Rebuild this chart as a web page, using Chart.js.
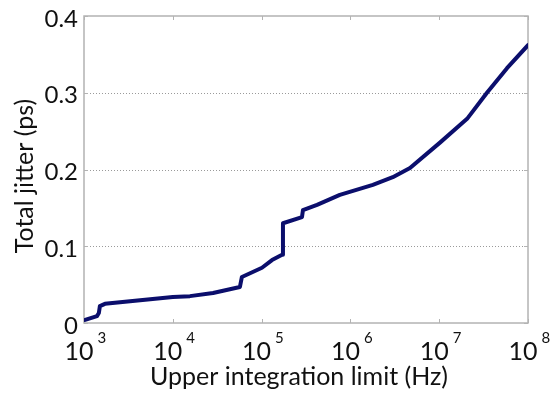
<!DOCTYPE html>
<html>
<head>
<meta charset="utf-8">
<script src="https://cdn.jsdelivr.net/npm/chart.js@4.4.0/dist/chart.umd.min.js"></script>
<style>
  html, body { margin: 0; padding: 0; background: #fff; }
  canvas { display: block; }
</style>
</head>
<body>
<canvas id="jitterChart" width="551" height="393"></canvas>
<script>
// integrated jitter vs upper integration limit
const freqHz = [1030, 1400, 1470, 1510, 1720, 10000, 15600, 28400, 57000, 60000,
                101000, 131000, 170000, 174000, 285000, 292000, 421000, 760000,
                1790000, 3000000, 4690000, 10200000, 20600000,
                34500000, 58000000, 100000000];
const jitterPs = [0.004, 0.009, 0.013, 0.022, 0.025, 0.034, 0.035, 0.039, 0.047, 0.060,
                  0.072, 0.082, 0.089, 0.130, 0.138, 0.147, 0.154, 0.167,
                  0.180, 0.190, 0.202, 0.235, 0.266,
                  0.300, 0.332, 0.362];

const xTickValues = [1e3, 1e4, 1e5, 1e6, 1e7, 1e8];
const xTickExponents = ["3", "4", "5", "6", "7", "8"];
const yTickValues = [0, 0.1, 0.2, 0.3, 0.4];
const yTickLabels = ["0", "0.1", "0.2", "0.3", "0.4"];
const xTitle = "Upper integration limit (Hz)";
const yTitle = "Total jitter (ps)";

const FONT = "Lato, 'Open Sans', sans-serif";

// axes box, dotted grid and little tick marks (MATLAB look)
const framePlugin = {
    id: "frame",
    beforeDatasetsDraw(chart) {
        const {ctx, chartArea: a, scales} = chart;
        ctx.save();
        // dotted grid
        ctx.strokeStyle = "#9a9a9a";
        ctx.lineWidth = 1;
        ctx.setLineDash([1, 2]);
        yTickValues.forEach(v => {
            if (v <= 0 || v >= 0.4) return;
            const y = Math.round(scales.y.getPixelForValue(v)) + 0.5;
            ctx.beginPath();
            ctx.moveTo(a.left, y);
            ctx.lineTo(a.right, y);
            ctx.stroke();
        });
        ctx.setLineDash([]);
        // box
        ctx.strokeStyle = "#b3b3b3";
        ctx.lineWidth = 1.5;
        ctx.strokeRect(a.left, a.top, a.right - a.left, a.bottom - a.top);
        // ticks
        ctx.lineWidth = 1;
        xTickValues.forEach(v => {
            const x = Math.round(scales.x.getPixelForValue(v)) + 0.5;
            ctx.beginPath();
            ctx.moveTo(x, a.top); ctx.lineTo(x, a.top + 4);
            ctx.moveTo(x, a.bottom); ctx.lineTo(x, a.bottom - 4);
            ctx.stroke();
        });
        yTickValues.forEach(v => {
            const y = Math.round(scales.y.getPixelForValue(v)) + 0.5;
            ctx.beginPath();
            ctx.moveTo(a.left, y); ctx.lineTo(a.left + 4, y);
            ctx.moveTo(a.right, y); ctx.lineTo(a.right - 4, y);
            ctx.stroke();
        });
        ctx.restore();
    },
    afterDraw(chart) {
        const {ctx, chartArea: a, scales} = chart;
        ctx.save();
        ctx.fillStyle = "#111";
        // y tick labels
        ctx.font = "24px " + FONT;
        ctx.textAlign = "right";
        ctx.textBaseline = "middle";
        yTickValues.forEach((v, i) => {
            ctx.fillText(yTickLabels[i], a.left - 6, scales.y.getPixelForValue(v) + 3);
        });
        // x tick labels: 10 with raised exponent
        ctx.textBaseline = "alphabetic";
        xTickValues.forEach((v, i) => {
            const x = scales.x.getPixelForValue(v);
            ctx.font = "25px " + FONT;
            ctx.textAlign = "center";
            ctx.fillText("10", x - 5, 360);
            const half = ctx.measureText("10").width / 2;
            ctx.font = "15px " + FONT;
            ctx.textAlign = "left";
            ctx.fillText(xTickExponents[i], x - 5 + half + 4, 343);
        });
        // axis titles
        ctx.font = "25px " + FONT;
        ctx.textAlign = "center";
        ctx.fillText(xTitle, 299, 385, 326);
        ctx.translate(33, 176);
        ctx.rotate(-Math.PI / 2);
        ctx.fillText(yTitle, 0, 0, 174);
        ctx.restore();
    }
};

const points = freqHz.map((f, i) => ({x: f, y: jitterPs[i]}));

new Chart(document.getElementById("jitterChart"), {
    type: "line",
    data: {
        datasets: [{
            data: points,
            borderColor: "#0b0e6c",
            borderWidth: 4,
            borderJoinStyle: "round",
            borderCapStyle: "round",
            pointRadius: 0,
            tension: 0,
            fill: false
        }]
    },
    options: {
        responsive: false,
        animation: false,
        devicePixelRatio: 1,
        layout: {padding: {left: 84, right: 23, top: 16, bottom: 70}},
        plugins: {legend: {display: false}, tooltip: {enabled: false}},
        scales: {
            x: {type: "logarithmic", min: 1e3, max: 1e8, display: false},
            y: {type: "linear", min: 0, max: 0.4, display: false}
        }
    },
    plugins: [framePlugin]
});
</script>
</body>
</html>
